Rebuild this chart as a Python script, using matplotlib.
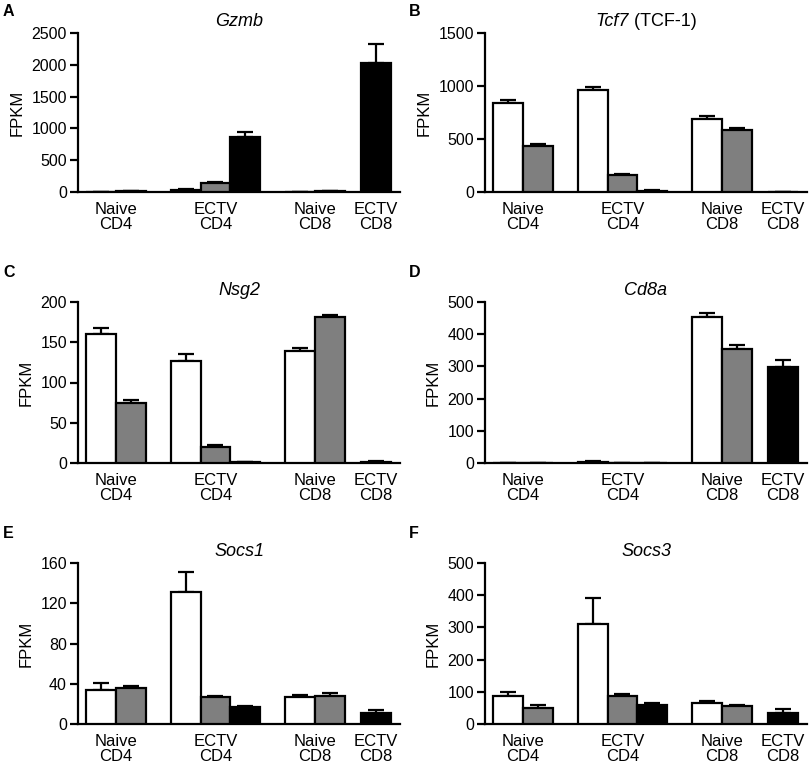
import matplotlib
matplotlib.use("Agg")
import matplotlib.pyplot as plt
from matplotlib.transforms import offset_copy
import numpy as np

plt.rcParams['font.family'] = ['Liberation Sans', 'DejaVu Sans']

# bar order: Naive CD4 (white, gray), ECTV CD4 (white, gray, black),
#            Naive CD8 (white, gray), ECTV CD8 (black)
groups = ["Naive\nCD4", "ECTV\nCD4", "Naive\nCD8", "ECTV\nCD8"]
bar_colors = ["white", "#7f7f7f", "white", "#7f7f7f", "black", "white", "#7f7f7f", "black"]
bar_group = [0, 0, 1, 1, 1, 2, 2, 3]

titles = ["Gzmb", "Tcf7", "Nsg2", "Cd8a", "Socs1", "Socs3"]
title_suffix = ["", " (TCF-1)", "", "", "", ""]
letters = ["A", "B", "C", "D", "E", "F"]

gzmb_vals = [2, 10, 25, 140, 860, 2, 10, 2030]
gzmb_err = [1, 6, 15, 20, 80, 1, 6, 300]
tcf7_vals = [835, 438, 963, 158, 12, 693, 587, 1]
tcf7_err = [35, 15, 30, 15, 5, 20, 18, 0.5]
nsg2_vals = [160, 75, 127, 19.5, 1, 139, 181, 1.5]
nsg2_err = [8, 3, 8, 3, 0.5, 4, 3, 0.5]
cd8a_vals = [0.5, 1, 4, 1, 0.5, 454, 354, 297]
cd8a_err = [0.3, 0.5, 2, 0.5, 0.3, 13, 12, 23]
socs1_vals = [33.5, 35.5, 131, 26.7, 16.8, 26.7, 28, 10.6]
socs1_err = [7, 2, 20, 1.3, 1, 1.7, 2.7, 3.6]
socs3_vals = [86, 50, 311, 86, 60, 65, 55, 34]
socs3_err = [13, 10, 79, 8, 4, 6, 4, 14]

all_vals = [gzmb_vals, tcf7_vals, nsg2_vals, cd8a_vals, socs1_vals, socs3_vals]
all_errs = [gzmb_err, tcf7_err, nsg2_err, cd8a_err, socs1_err, socs3_err]
yticks_list = [
    [0, 500, 1000, 1500, 2000, 2500],
    [0, 500, 1000, 1500],
    [0, 50, 100, 150, 200],
    [0, 100, 200, 300, 400, 500],
    [0, 40, 80, 120, 160],
    [0, 100, 200, 300, 400, 500],
]

# layout: bar positions (units of bar width)
xpos = np.array([0, 1, 2.85, 3.85, 4.85, 6.7, 7.7, 9.25])
group_centers = [np.mean(xpos[[i for i, g in enumerate(bar_group) if g == k]]) for k in range(4)]

W, H = 812, 774
fig = plt.figure(figsize=(W / 100, H / 100), dpi=100)

col_left = [78, 485]
letter_x = [3, 409]
ax_w = 322
rows = [(33, 192), (302, 463), (563, 724)]
letter_y = [12, 273, 533]

for i in range(6):
    r, c = divmod(i, 2)
    top, bot = rows[r]
    ax = fig.add_axes([col_left[c] / W, 1 - bot / H, ax_w / W, (bot - top) / H])
    vals = all_vals[i]
    errs = all_errs[i]
    ax.bar(xpos, vals, width=1.0, color=bar_colors, edgecolor="black",
           linewidth=1.6, zorder=3)
    ax.errorbar(xpos, vals, yerr=[np.zeros(len(vals)), errs], fmt="none",
                ecolor="black", elinewidth=1.6, capsize=6, capthick=1.6, zorder=2)
    yt = yticks_list[i]
    ax.set_ylim(0, yt[-1])
    ax.set_yticks(yt)
    ax.set_xlim(-0.77, 10.05)
    ax.set_xticks(group_centers)
    ax.set_xticklabels(groups, fontsize=12, linespacing=1.05)
    ax.tick_params(axis="x", length=0, pad=7)
    ax.tick_params(axis="y", direction="out", length=6, width=1.6, labelsize=11.5, pad=2)
    for s in ["top", "right"]:
        ax.spines[s].set_visible(False)
    for s in ["left", "bottom"]:
        ax.spines[s].set_linewidth(1.6)
    ax.set_ylabel("FPKM", fontsize=12, labelpad=5)

    trans = offset_copy(ax.transAxes, fig=fig, x=0, y=2.5, units="points")
    if title_suffix[i]:
        t1 = ax.text(0.0, 1.0, titles[i], transform=trans, fontsize=13,
                     style="italic", ha="left", va="bottom")
        t2 = ax.annotate(title_suffix[i], xy=(1, 0), xycoords=t1, fontsize=13,
                         ha="left", va="bottom")
        fig.canvas.draw()
        r1 = t1.get_window_extent()
        r2 = t2.get_window_extent()
        total = r2.x1 - r1.x0
        axb = ax.get_window_extent()
        x0 = axb.x0 + axb.width / 2 - total / 2
        t1.set_x((x0 - axb.x0) / axb.width)
    else:
        ax.text(0.5, 1.0, titles[i], transform=trans, fontsize=13,
                style="italic", ha="center", va="bottom")
    fig.text(letter_x[c] / W, 1 - letter_y[r] / H, letters[i],
             fontsize=11.5, fontweight="bold", ha="left", va="center")

fig.savefig("out.png", dpi=100)
